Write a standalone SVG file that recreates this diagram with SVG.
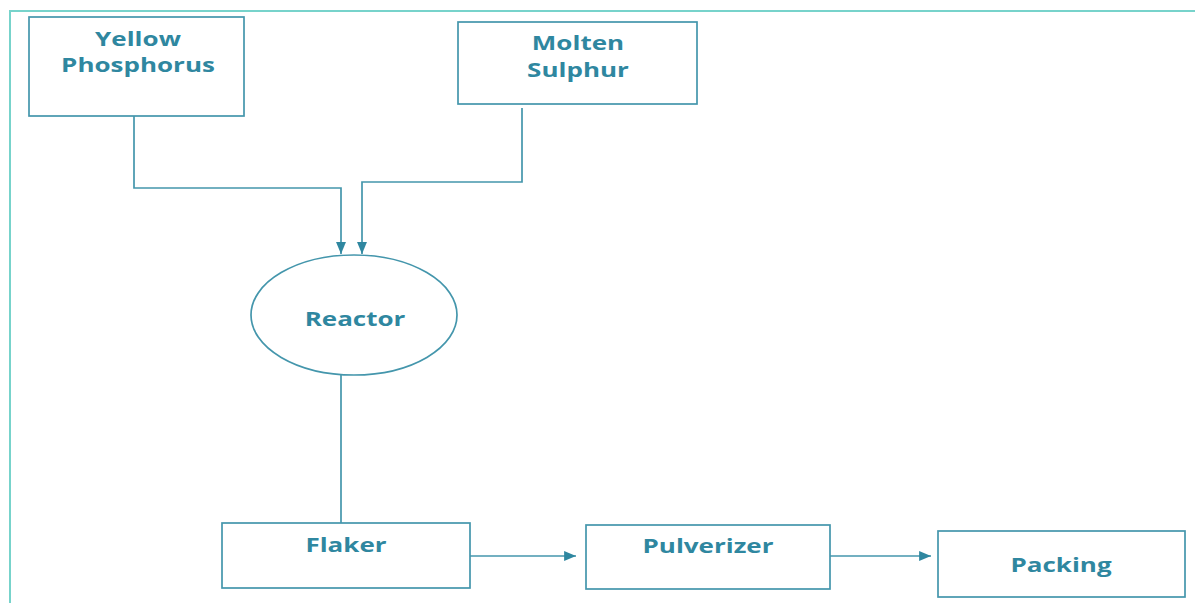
<svg xmlns="http://www.w3.org/2000/svg" width="1195" height="603" viewBox="0 0 1195 603">
<style>
.box{fill:#fff;stroke:#4496ac;stroke-width:1.7}
.lbl{font-family:"Open Sans","Noto Sans",sans-serif;font-weight:bold;font-size:20px;fill:#2f87a0;text-anchor:middle}
.con{fill:none;stroke:#4496ac;stroke-width:1.7}
</style>
<defs>
<marker id="ah" viewBox="0 0 12 10" refX="12" refY="5" markerWidth="7" markerHeight="6" markerUnits="strokeWidth" orient="auto">
<path d="M0,0 L12,5 L0,10 z" fill="#2f87a0"/>
</marker>
</defs>
<rect x="0" y="0" width="1195" height="603" fill="#fff"/>
<path d="M10,603 V11 H1195" fill="none" stroke="#77d3cb" stroke-width="2"/>
<g id="connectors">
<path class="con" d="M134,116 V188 H341 V254" marker-end="url(#ah)"/>
<path class="con" d="M522,108 V182 H362 V254" marker-end="url(#ah)"/>
<path class="con" d="M341,375 V523"/>
<path class="con" d="M470,556 H576" marker-end="url(#ah)"/>
<path class="con" d="M824,556 H931" marker-end="url(#ah)"/>
</g>
<g id="yellow-phosphorus">
<rect class="box" x="29" y="17" width="215" height="99"/>
<text class="lbl" transform="translate(138,46) scale(1.3,1)">Yellow</text>
<text class="lbl" transform="translate(138,72) scale(1.3,1)">Phosphorus</text>
</g>
<g id="molten-sulphur">
<rect class="box" x="458" y="22" width="239" height="82"/>
<text class="lbl" transform="translate(578,50) scale(1.3,1)">Molten</text>
<text class="lbl" transform="translate(578,77) scale(1.3,1)">Sulphur</text>
</g>
<g id="reactor">
<ellipse class="box" cx="354" cy="315" rx="103" ry="60"/>
<text class="lbl" transform="translate(355,326) scale(1.3,1)">Reactor</text>
</g>
<g id="flaker">
<rect class="box" x="222" y="523" width="248" height="65"/>
<text class="lbl" transform="translate(346,552) scale(1.3,1)">Flaker</text>
</g>
<g id="pulverizer">
<rect class="box" x="586" y="525" width="244" height="64"/>
<text class="lbl" transform="translate(708,553) scale(1.3,1)">Pulverizer</text>
</g>
<g id="packing">
<rect class="box" x="938" y="531" width="247" height="66"/>
<text class="lbl" transform="translate(1061,572) scale(1.3,1)">Packing</text>
</g>
</svg>
